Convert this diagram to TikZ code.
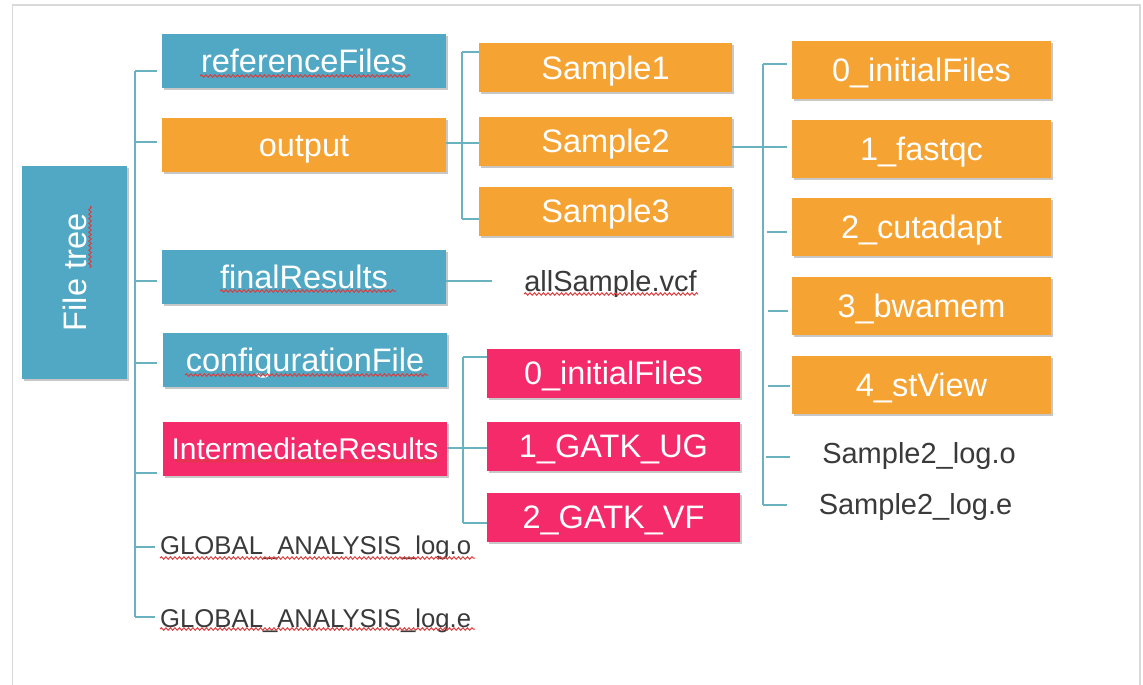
\documentclass[tikz,border=0pt]{standalone}
\usepackage{fontspec}
\setmainfont{Liberation Sans}
\usetikzlibrary{shadows,decorations.pathmorphing,calc}
\definecolor{cblue}{HTML}{50A8C4}
\definecolor{corange}{HTML}{F5A333}
\definecolor{cpink}{HTML}{F42A6B}
\definecolor{cline}{HTML}{6AB2C0}
\definecolor{ctext}{HTML}{3A3A3A}
\definecolor{cwave}{HTML}{DD3C3C}
\definecolor{cframe}{HTML}{D9D9D9}
\begin{document}
\begin{tikzpicture}[x=1pt,y=-1pt,
  boxbase/.style={draw=none, text=white, inner sep=0pt, font=\fontsize{32.5}{38}\selectfont,
    drop shadow={shadow xshift=1.5pt,shadow yshift=-2pt,opacity=0.22,fill=black}},
  box/.style={boxbase, text height=23.3pt, text depth=0pt},
  bluebox/.style={box, fill=cblue, minimum width=284pt, minimum height=54pt},
  orbox/.style={box, fill=corange},
  pinkbox/.style={box, fill=cpink, minimum width=253pt, minimum height=49pt},
  sampbox/.style={orbox, minimum width=253pt, minimum height=49pt},
  stepbox/.style={orbox, minimum width=259pt, minimum height=58pt},
  plain/.style={text=ctext, inner sep=0pt, font=\fontsize{29}{34}\selectfont, text height=20.8pt, text depth=0pt},
  globtext/.style={plain, anchor=west, font=\fontsize{25.7}{30}\selectfont, text height=18.4pt},
  conn/.style={draw=cline, line width=1.4pt},
  wave/.style={draw=cwave, line width=1pt, decorate, decoration={snake, amplitude=1.2pt, segment length=4.5pt}},
]
\useasboundingbox (0,0) rectangle (1143,685);
\fill[white] (0,0) rectangle (1143,685);
% frame
\draw[cframe, line width=1.5pt] (12.5,700) -- (12.5,5) -- (1140,5) -- (1140,700);

% level 0
\node[boxbase, fill=cblue, minimum width=105pt, minimum height=213pt] (ft) at (74.5,272.5) {\rotatebox{90}{File tree}};

% level 1
\node[bluebox] (rf) at (304,61) {referenceFiles};
\node[orbox, minimum width=284pt, minimum height=54pt] (out) at (304,145) {output};
\node[bluebox] (fr) at (304,277) {finalResults};
\node[bluebox] (cf) at (305,360) {configurationFile};
\node[box, fill=cpink, minimum width=284pt, minimum height=54pt, font=\fontsize{30}{36}\selectfont, text height=21.5pt] (ir) at (305,449) {IntermediateResults};
\node[globtext] (glo) at (160,545.5) {GLOBAL\_ANALYSIS\_log.o};
\node[globtext] (gle) at (160,618) {GLOBAL\_ANALYSIS\_log.e};

% samples
\node[sampbox] (s1) at (605.5,67.5) {Sample1};
\node[sampbox] (s2) at (605.5,141) {Sample2};
\node[sampbox] (s3) at (605.5,211) {Sample3};
\node[plain] (vcf) at (610.5,281) {allSample.vcf};

% sample2 contents
\node[stepbox] (i0) at (921.5,70) {0\_initialFiles};
\node[stepbox] (f1) at (921.5,148.5) {1\_fastqc};
\node[stepbox] (c2) at (921.5,227) {2\_cutadapt};
\node[stepbox] (b3) at (921.5,306) {3\_bwamem};
\node[stepbox] (v4) at (921.5,385) {4\_stView};
\node[plain] (slo) at (919,453) {Sample2\_log.o};
\node[plain] (sle) at (915.5,504) {Sample2\_log.e};

% intermediate contents
\node[pinkbox] (p0) at (613.5,373) {0\_initialFiles};
\node[pinkbox] (p1) at (613.5,446) {1\_GATK\_UG};
\node[pinkbox] (p2) at (613.5,517) {2\_GATK\_VF};

% trunk level 1
\coordinate (tA) at (135,71);
\coordinate (tB) at (135,617);
\draw[conn] (tA) -- (tB);
\draw[conn] ([shift={(-5,10)}]rf.west) -- +(-22,0);
\draw[conn] ([shift={(-5,-3)}]out.west) -- +(-22,0);
\draw[conn] ([shift={(-5,4)}]fr.west) -- +(-22,0);
\draw[conn] ([shift={(-6,3)}]cf.west) -- +(-22,0);
\draw[conn] ([shift={(-6,24)}]ir.west) -- +(-22,0);
\draw[conn] ([shift={(-5,1.5)}]glo.west) -- +(-20,0);
\draw[conn] ([shift={(-5,-1)}]gle.west) -- +(-20,0);

% output -> samples
\coordinate (sA) at (462,52);
\coordinate (sB) at (462,219);
\draw[conn] (sA) -- (sB);
\draw[conn] ([shift={(0,-2)}]out.east) -- ([shift={(0,2)}]s2.west);
\draw[conn] (sA) -- (sA -| s1.west);
\draw[conn] (sB) -- (sB -| s3.west);

% finalResults -> vcf
\draw[conn] ([shift={(0,4)}]fr.east) -- +(46,0);

% sample2 -> steps
\coordinate (qA) at (763,64);
\coordinate (qB) at (763,505);
\draw[conn] (qA) -- (qB);
\draw[conn] ([shift={(0,6)}]s2.east) -- ([shift={(-5,-1.5)}]f1.west);
\draw[conn] (qA) -- ([shift={(-5,0)}]qA -| i0.west);
\draw[conn] ([shift={(-25,5)}]c2.west) -- +(20,0);
\draw[conn] ([shift={(-24,5)}]b3.west) -- +(20,0);
\draw[conn] ([shift={(-24,1)}]v4.west) -- +(22,0);
\draw[conn] ([shift={(-56,4)}]slo.west) -- +(24,0);
\draw[conn] (qB) -- +(24,0);

% intermediate -> pink
\coordinate (rA) at (463,357);
\coordinate (rB) at (463,523);
\draw[conn] (rA) -- (rB);
\draw[conn] ([shift={(0,-1)}]ir.east) -- ([shift={(0,2)}]p1.west);
\draw[conn] (rA) -- (rA -| p0.west);
\draw[conn] (rB) -- (rB -| p2.west);

% spell-check underlines
\draw[wave] (200,76) -- (410,76);
\draw[wave] (220,291) -- (396,291);
\draw[wave] (185,375) -- (428,375);
\draw[wave] (175,461) -- (438,461);
\draw[wave] (90,206) -- (90,268);
\draw[wave] (524,294) -- (698,294);
\draw[wave] (160,558) -- (475,558);
\draw[wave] (160,629) -- (475,629);
\end{tikzpicture}
\end{document}
